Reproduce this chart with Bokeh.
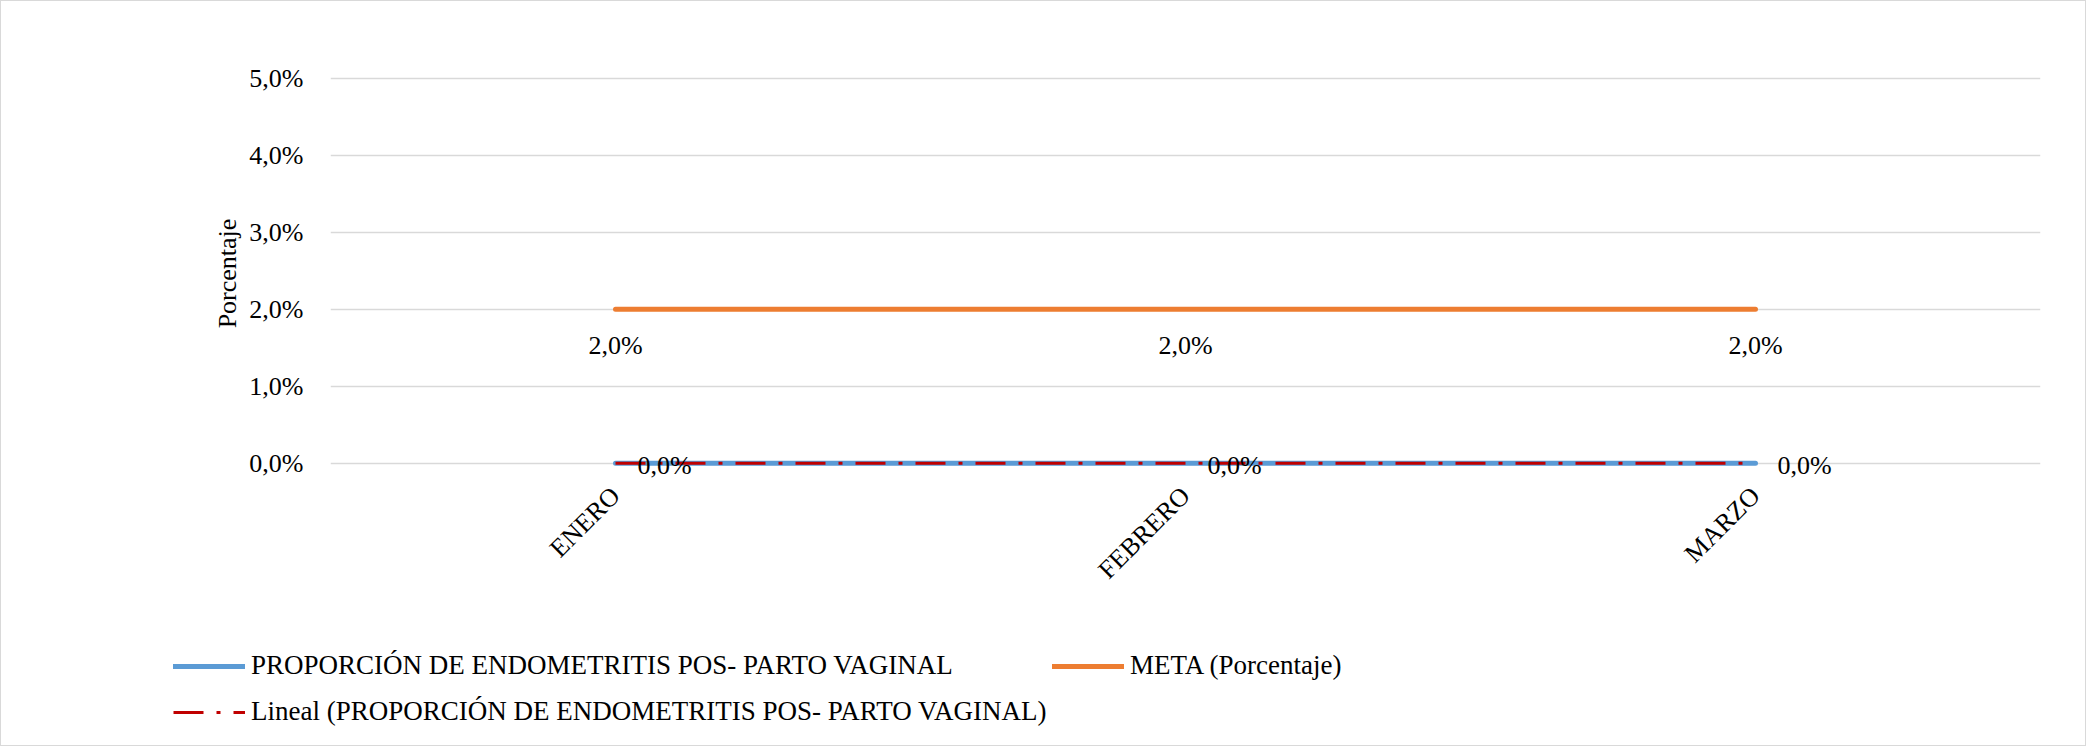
import math
from bokeh.plotting import figure
from bokeh.layouts import column
from bokeh.models import (ColumnDataSource, FactorRange, Range1d, FixedTicker,
                          Legend, LegendItem, Label)
from bokeh.embed import file_html
from bokeh.resources import INLINE

# ---- data ----
months = ["ENERO", "FEBRERO", "MARZO"]
proporcion = [0.0, 0.0, 0.0]          # % PROPORCIÓN DE ENDOMETRITIS POS- PARTO VAGINAL
meta = [2.0, 2.0, 2.0]                # % META
lineal = [0.0, 0.0, 0.0]              # linear trend of proporcion
y_ticks = [0, 1, 2, 3, 4, 5]
y_tick_labels = ["0,0%", "1,0%", "2,0%", "3,0%", "4,0%", "5,0%"]
meta_labels = ["2,0%", "2,0%", "2,0%"]
prop_labels = ["0,0%", "0,0%", "0,0%"]
series_names = ["PROPORCIÓN DE ENDOMETRITIS POS- PARTO VAGINAL",
                "META (Porcentaje)",
                "Lineal (PROPORCIÓN DE ENDOMETRITIS POS- PARTO VAGINAL)"]

FONT = "Liberation Serif"
FS = "26px"
FS_LEG = "27px"
W = 2086
H_MAIN = 620
H_LEG = 126

BLUE, ORANGE, RED = "#5B9BD5", "#ED7D31", "#C00000"
DASH = "30 13 4 13"

p = figure(width=W, height=H_MAIN, output_backend="svg", toolbar_location=None,
           x_range=FactorRange(*months, range_padding=0),
           y_range=Range1d(-0.25, 5.18),
           min_border_left=330, min_border_right=46,
           min_border_top=64, min_border_bottom=H_MAIN - 482)
p.frame_align = False
p.outline_line_color = None
p.background_fill_alpha = 0
p.border_fill_alpha = 0

# axes
p.yaxis.ticker = FixedTicker(ticks=y_ticks)
p.yaxis.major_label_overrides = {t: l for t, l in zip(y_ticks, y_tick_labels)}
p.yaxis.axis_label = "Porcentaje"
for ax in (p.xaxis[0], p.yaxis[0]):
    ax.axis_line_color = None
    ax.major_tick_line_color = None
    ax.minor_tick_line_color = None
    ax.major_label_text_font = FONT
    ax.major_label_text_font_size = FS
    ax.major_label_text_color = "black"
p.yaxis.major_label_standoff = 21
p.yaxis.axis_label_text_font = FONT
p.yaxis.axis_label_text_font_size = FS
p.yaxis.axis_label_text_font_style = "normal"
p.yaxis.axis_label_text_color = "black"
p.yaxis.axis_label_standoff = 4
p.xaxis.major_label_orientation = math.pi / 4
p.xaxis.major_label_standoff = 3

p.xgrid.grid_line_color = None
p.ygrid.ticker = FixedTicker(ticks=y_ticks)
p.ygrid.grid_line_color = "#D9D9D9"
p.ygrid.grid_line_width = 1.5

src = ColumnDataSource(dict(x=months, prop=proporcion, meta=meta, lineal=lineal))

r_prop = p.line("x", "prop", source=src, line_color=BLUE, line_width=5, line_cap="round")
r_lin = p.line("x", "lineal", source=src, line_color=RED, line_width=3, line_dash=DASH)
r_meta = p.line("x", "meta", source=src, line_color=ORANGE, line_width=5, line_cap="round")

# data labels (categorical factor i is centred at synthetic coordinate i + 0.5)
for i, (v, t) in enumerate(zip(meta, meta_labels)):
    p.add_layout(Label(x=i + 0.5, y=v, text=t, text_align="center", text_baseline="middle",
                       y_offset=-36, text_font=FONT, text_font_size=FS,
                       text_color="black"))
for i, (v, t) in enumerate(zip(proporcion, prop_labels)):
    p.add_layout(Label(x=i + 0.5, y=v, text=t, text_align="left", text_baseline="middle",
                       x_offset=22, y_offset=-2, text_font=FONT, text_font_size=FS,
                       text_color="black"))

# ---- legend strip ----
q = figure(width=W, height=H_LEG, output_backend="svg", toolbar_location=None,
           x_axis_type=None, y_axis_type=None,
           x_range=Range1d(0, W), y_range=Range1d(0, H_LEG),
           min_border=0)
q.frame_align = False
q.outline_line_color = None
q.xgrid.visible = False
q.ygrid.visible = False
q.background_fill_alpha = 0
q.border_fill_alpha = 0
nan = float("nan")
l_prop = q.line([nan], [nan], line_color=BLUE, line_width=5, line_cap="round")
l_meta = q.line([nan], [nan], line_color=ORANGE, line_width=5, line_cap="round")
l_lin = q.line([nan], [nan], line_color=RED, line_width=3, line_dash=DASH)

common = dict(orientation="horizontal", padding=0, margin=0, label_standoff=6,
              glyph_width=72, glyph_height=26, label_height=26,
              border_line_color=None, background_fill_alpha=0,
              label_text_font=FONT, label_text_font_size=FS_LEG,
              label_text_color="black")
for name, rend, loc in zip(series_names, [l_prop, l_meta, l_lin],
                           [(173, 65), (1052, 65), (173, 19)]):
    q.add_layout(Legend(items=[LegendItem(label=name, renderers=[rend])],
                        location=loc, **common), "center")

layout = column(p, q, spacing=0)
layout.styles = {"outline": "1px solid #D9D9D9", "outline-offset": "-1px",
                 "background-color": "white"}

open("out.html", "w").write(file_html(layout, INLINE))
